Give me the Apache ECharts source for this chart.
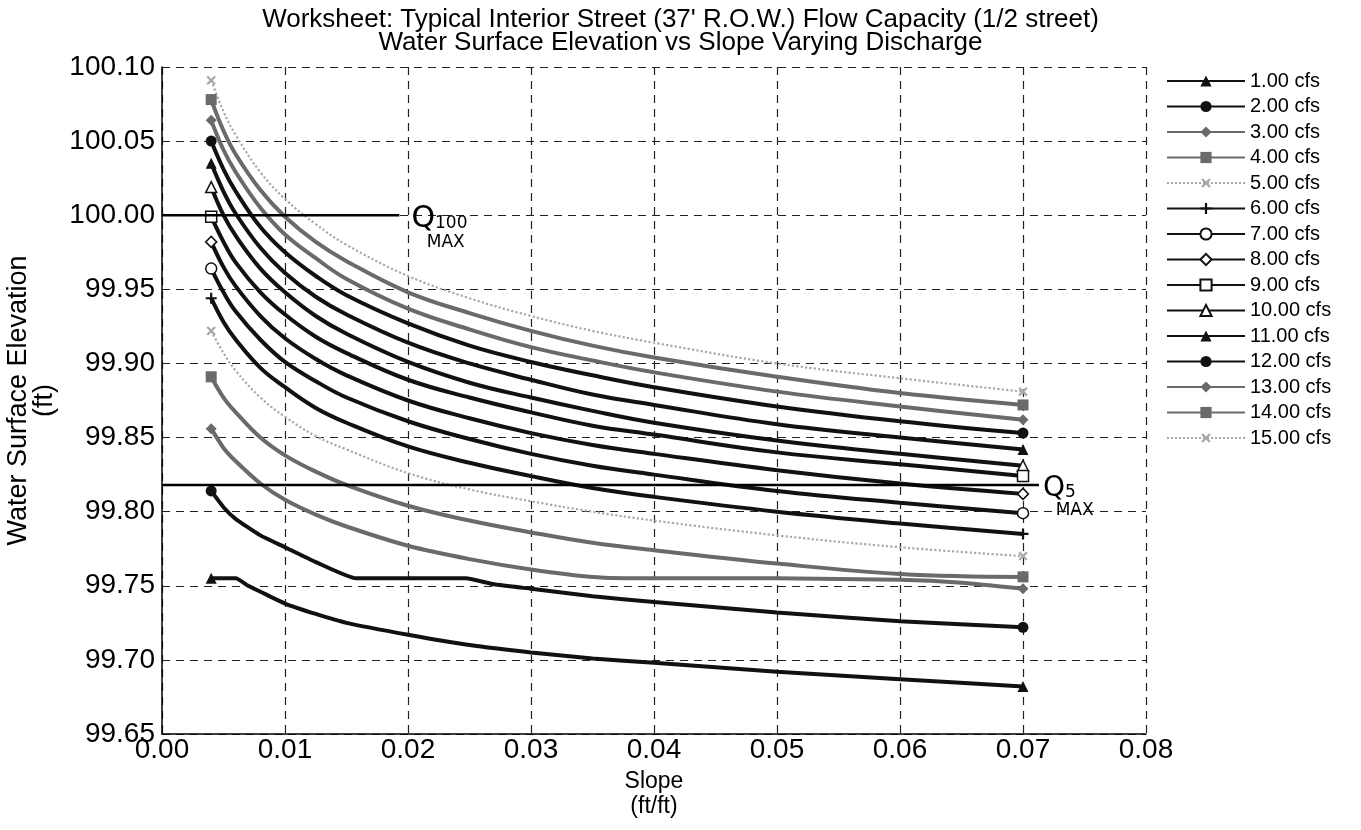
<!DOCTYPE html>
<html>
<head>
    <meta charset="utf-8">
    <script src="https://cdn.jsdelivr.net/npm/echarts@6/dist/echarts.min.js"></script>
    <style>
        body { margin: 0; background: #fff; }
        #main { width: 1361px; height: 830px; }
    </style>
</head>

<body>
    <div id="main"></div>

    <script type="text/javascript">
        var myChart = echarts.init(document.getElementById('main'));

        // slopes (ft/ft) the curves were read at
        var slopes = [0.004, 0.005, 0.006, 0.008, 0.01, 0.0125, 0.015, 0.02, 0.025, 0.03, 0.035, 0.04, 0.05, 0.06, 0.07]
        var slopes3 = [0.004, 0.005, 0.006, 0.008, 0.01, 0.0125, 0.015, 0.02, 0.025, 0.03, 0.035, 0.04, 0.05, 0.06, 0.065, 0.07]
        var slopes2 = [0.004, 0.005, 0.006, 0.008, 0.01, 0.0125, 0.0158, 0.0247, 0.027, 0.03, 0.035, 0.04, 0.05, 0.06, 0.07]
        var slopes1 = [0.004, 0.006, 0.007, 0.008, 0.01, 0.0125, 0.015, 0.02, 0.025, 0.03, 0.035, 0.04, 0.05, 0.06, 0.07]

        // water surface elevation (ft) for each discharge
        var q1 = [99.755, 99.755, 99.750, 99.746, 99.738, 99.731, 99.725, 99.717, 99.710, 99.705, 99.701, 99.698, 99.692, 99.687, 99.682]
        var q2 = [99.814, 99.803, 99.795, 99.784, 99.776, 99.766, 99.755, 99.755, 99.751, 99.748, 99.743, 99.739, 99.732, 99.726, 99.722]
        var q3 = [99.856, 99.843, 99.834, 99.819, 99.808, 99.798, 99.790, 99.777, 99.768, 99.761, 99.756, 99.755, 99.755, 99.754, 99.752, 99.748]
        var q4 = [99.891, 99.877, 99.867, 99.850, 99.838, 99.827, 99.818, 99.804, 99.794, 99.786, 99.779, 99.774, 99.765, 99.758, 99.756]
        var q5 = [99.922, 99.907, 99.895, 99.877, 99.864, 99.851, 99.842, 99.826, 99.815, 99.807, 99.800, 99.794, 99.784, 99.776, 99.770]
        var q6 = [99.944, 99.928, 99.916, 99.897, 99.884, 99.870, 99.860, 99.844, 99.833, 99.824, 99.816, 99.810, 99.800, 99.792, 99.785]
        var q7 = [99.964, 99.948, 99.935, 99.916, 99.901, 99.888, 99.877, 99.861, 99.849, 99.839, 99.831, 99.825, 99.814, 99.806, 99.799]
        var q8 = [99.982, 99.965, 99.952, 99.932, 99.917, 99.903, 99.892, 99.875, 99.863, 99.853, 99.845, 99.839, 99.828, 99.819, 99.812]
        var q9 = [99.999, 99.982, 99.968, 99.948, 99.933, 99.918, 99.907, 99.889, 99.877, 99.867, 99.858, 99.852, 99.840, 99.832, 99.824]
        var q10 = [100.019, 100.000, 99.986, 99.964, 99.948, 99.932, 99.920, 99.901, 99.887, 99.877, 99.868, 99.860, 99.848, 99.839, 99.831]
        var q11 = [100.035, 100.016, 100.001, 99.978, 99.961, 99.945, 99.933, 99.914, 99.900, 99.889, 99.879, 99.872, 99.859, 99.850, 99.842]
        var q12 = [100.050, 100.031, 100.016, 99.992, 99.975, 99.959, 99.946, 99.927, 99.912, 99.901, 99.892, 99.884, 99.871, 99.861, 99.853]
        var q13 = [100.064, 100.044, 100.029, 100.005, 99.987, 99.971, 99.957, 99.937, 99.923, 99.911, 99.902, 99.894, 99.881, 99.871, 99.862]
        var q14 = [100.078, 100.057, 100.041, 100.017, 99.999, 99.982, 99.969, 99.948, 99.934, 99.922, 99.912, 99.904, 99.891, 99.880, 99.872]
        var q15 = [100.091, 100.070, 100.054, 100.029, 100.011, 99.994, 99.980, 99.959, 99.944, 99.932, 99.922, 99.914, 99.900, 99.890, 99.881]

        var names = ['1.00 cfs', '2.00 cfs', '3.00 cfs', '4.00 cfs', '5.00 cfs', '6.00 cfs', '7.00 cfs', '8.00 cfs',
                     '9.00 cfs', '10.00 cfs', '11.00 cfs', '12.00 cfs', '13.00 cfs', '14.00 cfs', '15.00 cfs']

        // hand-drawn limit lines
        var q100MaxX = [0, 0.0193]
        var q100MaxY = [100.0, 100.0]
        var q5MaxX = [0, 0.0713]
        var q5MaxY = [99.818, 99.818]

        var plus = 'path://M4,0H6V4H10V6H6V10H4V6H0V4H4Z'

        // look of each curve: [symbol, fill, lineColor, lineType, width, rotate, smooth]
        var BLACK = '#111', HATCH = '#6a6a6a', LIGHT = '#a8a8a8'
        var looks = [
            ['triangle', BLACK, BLACK, 'solid', 4, 0, 0.15],
            ['circle', BLACK, BLACK, 'solid', 4, 0, 0.15],
            ['diamond', HATCH, HATCH, 'solid', 4, 0, 0.2],
            ['rect', HATCH, HATCH, 'solid', 4, 0, 0.4],
            [plus, LIGHT, LIGHT, 'dotted', 2.2, 45, 0.4],
            [plus, BLACK, BLACK, 'solid', 4, 0, 0.4],
            ['circle', '#fff', BLACK, 'solid', 4, 0, 0.4],
            ['diamond', '#fff', BLACK, 'solid', 4, 0, 0.4],
            ['rect', '#fff', BLACK, 'solid', 4, 0, 0.4],
            ['triangle', '#fff', BLACK, 'solid', 4, 0, 0.4],
            ['triangle', BLACK, BLACK, 'solid', 4, 0, 0.4],
            ['circle', BLACK, BLACK, 'solid', 4, 0, 0.4],
            ['diamond', HATCH, HATCH, 'solid', 4, 0, 0.4],
            ['rect', HATCH, HATCH, 'solid', 4, 0, 0.4],
            [plus, LIGHT, LIGHT, 'dotted', 2.2, 45, 0.4]
        ]

        var xs = [slopes1, slopes2, slopes3, slopes, slopes, slopes, slopes, slopes, slopes, slopes, slopes, slopes, slopes, slopes, slopes]
        var ys = [q1, q2, q3, q4, q5, q6, q7, q8, q9, q10, q11, q12, q13, q14, q15]

        function pairs(a, b) {
            return a.map(function (x, i) { return [x, b[i]]; });
        }

        var series = ys.map(function (vals, k) {
            var lk = looks[k];
            var last = vals.length - 1;
            return {
                name: names[k],
                type: 'line',
                data: pairs(xs[k], vals),
                smooth: lk[6],
                symbol: lk[0],
                symbolRotate: lk[5],
                symbolSize: function (val, params) {
                    return (params.dataIndex === 0 || params.dataIndex === last) ? 11 : 0;
                },
                showAllSymbol: true,
                lineStyle: { color: lk[2], type: lk[3], width: lk[4] },
                itemStyle: { color: lk[1], borderColor: lk[2], borderWidth: lk[1] === '#fff' ? 1.5 : 0 },
                z: 20 - k,
                animation: false
            };
        });

        var handFont = 'DejaVu Sans'
        series.push({
            name: 'Q100 MAX',
            type: 'line',
            data: pairs(q100MaxX, q100MaxY),
            symbol: 'none',
            lineStyle: { color: '#000', width: 2.5 },
            endLabel: {
                show: true,
                distance: 12,
                formatter: '{q|Q}{s|100}\n {m|MAX}',
                rich: {
                    q: { fontSize: 30, fontFamily: handFont, color: '#000' },
                    s: { fontSize: 17, fontFamily: handFont, color: '#000', padding: [10, 0, 0, 0] },
                    m: { fontSize: 17, fontFamily: handFont, color: '#000', padding: [0, 0, 0, 12] }
                },
                offset: [0, 12]
            },
            z: 30,
            animation: false
        });
        series.push({
            name: 'Q5 MAX',
            type: 'line',
            data: pairs(q5MaxX, q5MaxY),
            symbol: 'none',
            lineStyle: { color: '#000', width: 2.5 },
            endLabel: {
                show: true,
                distance: 4,
                formatter: '{q|Q}{s|5}\n  {m|MAX}',
                rich: {
                    q: { fontSize: 28, fontFamily: handFont, color: '#000' },
                    s: { fontSize: 17, fontFamily: handFont, color: '#000', padding: [8, 0, 0, 0] },
                    m: { fontSize: 17, fontFamily: handFont, color: '#000', padding: [0, 0, 0, 6] }
                },
                offset: [0, 12]
            },
            z: 30,
            animation: false
        });

        var gridLine = { show: true, lineStyle: { color: '#222', type: [8, 6], width: 1.2 } };

        myChart.setOption({
            backgroundColor: '#fff',
            textStyle: { fontFamily: 'Liberation Sans' },
            title: {
                left: 'center',
                top: 3,
                text: "Worksheet: Typical Interior Street (37' R.O.W.) Flow Capacity (1/2 street)\nWater Surface Elevation vs Slope Varying Discharge",
                textStyle: { fontSize: 26, fontWeight: 'normal', color: '#000', lineHeight: 23, fontFamily: 'Liberation Sans' }
            },
            legend: {
                data: names,
                orient: 'vertical',
                left: 1161,
                top: 66,
                itemWidth: 78,
                itemHeight: 14,
                itemGap: 5.5,
                textStyle: { fontSize: 20, lineHeight: 20, color: '#000', fontFamily: 'Liberation Sans' }
            },
            grid: {
                left: 162,
                right: 215,
                top: 67,
                bottom: 96,
                outerBoundsMode: 'none'
            },
            xAxis: {
                type: 'value',
                min: 0,
                max: 0.08,
                interval: 0.01,
                name: 'Slope\n(ft/ft)',
                nameLocation: 'middle',
                nameGap: 28,
                nameTextStyle: { fontSize: 23, color: '#000', lineHeight: 25, verticalAlign: 'top' },
                axisLine: { show: true, lineStyle: { color: '#000', width: 1.5 } },
                axisTick: { show: false },
                axisLabel: {
                    fontSize: 28, color: '#000', margin: 2,
                    formatter: function (v) { return v.toFixed(2); }
                },
                splitLine: gridLine
            },
            yAxis: {
                type: 'value',
                min: 99.65,
                max: 100.10,
                interval: 0.05,
                name: 'Water Surface Elevation\n(ft)',
                nameLocation: 'middle',
                nameGap: 99,
                nameRotate: 90,
                nameTextStyle: { fontSize: 27, color: '#000', lineHeight: 26 },
                axisLine: { show: true, lineStyle: { color: '#000', width: 1.5 } },
                axisTick: { show: false },
                axisLabel: {
                    fontSize: 28, color: '#000', margin: 7,
                    formatter: function (v) { return v.toFixed(2); }
                },
                splitLine: gridLine
            },
            series: series
        });
    </script>
</body>

</html>
